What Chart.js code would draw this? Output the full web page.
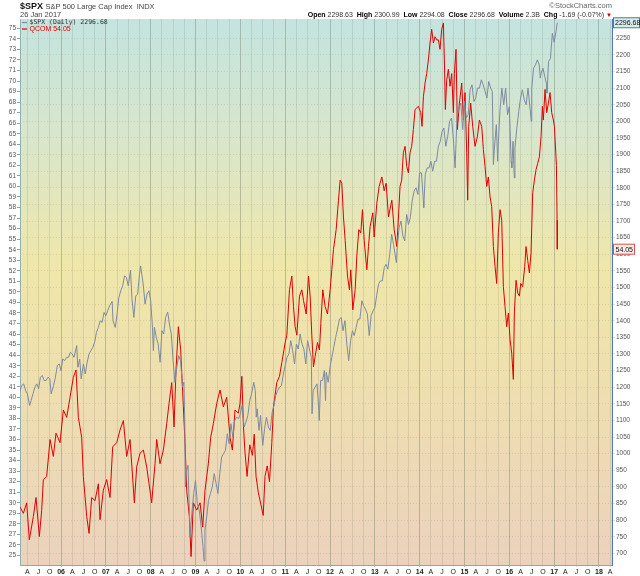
<!DOCTYPE html>
<html><head><meta charset="utf-8">
<script src="https://cdn.jsdelivr.net/npm/chart.js@4.4.1/dist/chart.umd.min.js"></script>
<style>
body{margin:0;background:#fff;}
#wrap{position:relative;width:640px;height:576px;font-family:"Liberation Sans",Arial,sans-serif;}
canvas{position:absolute;left:0;top:0;}
.h{position:absolute;white-space:nowrap;line-height:1;}
.b{font-weight:bold;color:#000;}
</style></head><body>
<div id="wrap">
<canvas id="c" width="640" height="576"></canvas>
<div class="h" style="left:20px;top:1.5px;font-size:9px;font-weight:bold;color:#111">$SPX</div>
<div class="h" style="left:45.5px;top:2.5px;font-size:7.5px;color:#444">S&amp;P 500 Large Cap Index&nbsp; INDX</div>
<div class="h" style="left:20px;top:10.5px;font-size:7.5px;color:#444">26 Jan 2017</div>
<div class="h" style="right:28px;top:2px;font-size:7.5px;color:#666">©StockCharts.com</div>
<div class="h" style="right:28px;top:10.5px;font-size:7px;color:#333"><span class="b">Open</span> 2298.63&nbsp;&nbsp;<span class="b">High</span> 2300.99&nbsp;&nbsp;<span class="b">Low</span> 2294.08&nbsp;&nbsp;<span class="b">Close</span> 2296.68&nbsp;&nbsp;<span class="b">Volume</span> 2.3B&nbsp;&nbsp;<span class="b">Chg</span> -1.69 (-0.07%) <span style="color:#c00;font-size:6px">▼</span></div>
</div>
<script>
// ---- axis ranges / ticks ----
const X_MIN = 2005.085, X_MAX = 2018.29;
const Q_MIN = 24.1, Q_MAX = 75.88;
const S_MIN = 665, S_MAX = 2308;
const yearLabels = ['05','06','07','08','09','10','11','12','13','14','15','16','17','18'];
const quarterLabels = ['A','J','O'];
const leftTicks = [25,26,27,28,29,30,31,32,33,34,35,36,37,38,39,40,41,42,43,44,45,46,47,48,49,50,51,52,53,54,55,56,57,58,59,60,61,62,63,64,65,66,67,68,69,70,71,72,73,74,75];
const rightTicks = [700,750,800,850,900,950,1000,1050,1100,1150,1200,1250,1300,1350,1400,1450,1500,1550,1600,1650,1700,1750,1800,1850,1900,1950,2000,2050,2100,2150,2200,2250];

// ---- $SPX (daily close, sampled) : decimal year / value ----
const spxDates = [
2005.085,2005.12,2005.167,2005.21,2005.25,2005.30,2005.333,2005.375,2005.417,2005.46,2005.50,2005.54,2005.583,2005.625,2005.667,2005.71,2005.75,2005.78,2005.833,2005.875,2005.917,2005.96,
2006.00,2006.04,2006.083,2006.125,2006.167,2006.21,2006.25,2006.29,2006.35,2006.375,2006.417,2006.45,2006.50,2006.54,2006.583,2006.625,2006.667,2006.71,2006.75,2006.79,2006.833,2006.875,2006.917,2006.96,
2007.00,2007.04,2007.083,2007.14,2007.16,2007.21,2007.25,2007.29,2007.333,2007.375,2007.417,2007.46,2007.50,2007.55,2007.583,2007.625,2007.667,2007.71,2007.75,2007.775,2007.833,2007.875,2007.917,2007.96,
2008.00,2008.04,2008.06,2008.083,2008.125,2008.167,2008.21,2008.25,2008.29,2008.333,2008.38,2008.417,2008.46,2008.50,2008.54,2008.583,2008.625,2008.667,2008.71,2008.74,2008.76,2008.775,2008.79,2008.833,2008.88,2008.917,2008.96,
2009.00,2009.04,2009.083,2009.125,2009.167,2009.19,2009.21,2009.25,2009.29,2009.333,2009.375,2009.417,2009.46,2009.50,2009.54,2009.583,2009.625,2009.667,2009.71,2009.75,2009.79,2009.833,2009.875,2009.917,2009.96,
2010.00,2010.04,2010.083,2010.125,2010.167,2010.21,2010.25,2010.30,2010.333,2010.355,2010.375,2010.417,2010.45,2010.50,2010.54,2010.583,2010.625,2010.667,2010.71,2010.75,2010.79,2010.833,2010.875,2010.917,2010.96,
2011.00,2011.04,2011.083,2011.125,2011.167,2011.21,2011.25,2011.29,2011.333,2011.375,2011.417,2011.46,2011.50,2011.54,2011.583,2011.60,2011.625,2011.667,2011.71,2011.75,2011.76,2011.79,2011.833,2011.875,2011.90,2011.917,2011.96,
2012.00,2012.04,2012.083,2012.125,2012.167,2012.21,2012.25,2012.29,2012.333,2012.375,2012.417,2012.46,2012.50,2012.54,2012.583,2012.625,2012.667,2012.71,2012.75,2012.79,2012.833,2012.875,2012.917,2012.96,
2013.00,2013.04,2013.083,2013.125,2013.167,2013.21,2013.25,2013.29,2013.333,2013.375,2013.417,2013.48,2013.50,2013.54,2013.583,2013.625,2013.667,2013.71,2013.75,2013.79,2013.833,2013.875,2013.917,2013.96,
2014.00,2014.04,2014.083,2014.09,2014.125,2014.167,2014.21,2014.25,2014.29,2014.333,2014.375,2014.417,2014.46,2014.50,2014.54,2014.583,2014.625,2014.667,2014.71,2014.75,2014.79,2014.833,2014.875,2014.917,2014.96,
2015.00,2015.04,2015.083,2015.125,2015.167,2015.21,2015.25,2015.29,2015.333,2015.375,2015.417,2015.46,2015.50,2015.54,2015.583,2015.62,2015.645,2015.667,2015.71,2015.74,2015.75,2015.79,2015.833,2015.875,2015.917,2015.96,
2016.00,2016.04,2016.055,2016.083,2016.11,2016.125,2016.167,2016.21,2016.25,2016.29,2016.333,2016.375,2016.417,2016.49,2016.50,2016.54,2016.583,2016.625,2016.667,2016.69,2016.71,2016.75,2016.79,2016.833,2016.84,2016.875,2016.917,2016.96,
2017.00,2017.04,2017.07];
const spxClose = [
1190,1205,1210,1190,1180,1145,1160,1180,1200,1210,1195,1230,1235,1220,1220,1230,1225,1180,1205,1230,1265,1270,
1250,1285,1280,1290,1290,1305,1300,1290,1325,1260,1285,1225,1270,1240,1275,1300,1310,1320,1335,1365,1380,1400,1395,1425,
1415,1430,1445,1458,1400,1380,1420,1470,1490,1505,1535,1530,1505,1552,1465,1410,1475,1480,1540,1565,1510,1450,1480,1490,
1460,1380,1310,1380,1350,1330,1275,1370,1360,1410,1426,1390,1360,1280,1215,1260,1295,1280,1200,1215,1100,900,940,965,750,820,880,
920,850,830,780,720,677,770,810,860,880,900,940,910,880,940,990,1000,1010,1060,1030,1090,1050,1100,1110,1105,
1120,1145,1080,1095,1115,1160,1180,1215,1190,1110,1135,1070,1115,1025,1075,1110,1080,1070,1125,1145,1175,1190,1200,1205,1240,
1265,1290,1300,1340,1310,1270,1330,1315,1360,1330,1315,1270,1340,1315,1290,1120,1190,1200,1210,1130,1100,1220,1220,1250,1160,1245,1215,
1260,1290,1320,1350,1375,1405,1410,1370,1400,1330,1280,1340,1370,1355,1380,1405,1405,1460,1445,1435,1420,1355,1415,1430,
1440,1475,1510,1520,1520,1560,1570,1555,1600,1660,1630,1575,1620,1680,1700,1655,1640,1720,1690,1710,1760,1790,1800,1780,
1845,1845,1760,1740,1840,1860,1860,1880,1850,1880,1880,1925,1940,1970,1980,1925,1955,2000,2010,1950,1860,2015,2040,2055,1975,
2060,2010,2020,2095,2110,2060,2070,2100,2100,2125,2110,2090,2070,2120,2100,2090,1870,1920,1990,1880,1920,2030,2100,2050,2100,2020,
2044,1880,1860,1940,1830,1920,1980,2030,2070,2095,2065,2050,2100,2000,2100,2160,2170,2185,2170,2130,2145,2160,2135,2110,2085,2180,2190,2265,
2238,2270,2296.68];

// ---- QCOM (adjusted close, sampled) : decimal year / value ----
const qcomDates = [
2005.085,2005.160,2005.234,2005.293,2005.383,2005.442,2005.517,2005.569,2005.606,2005.680,2005.755,2005.829,2005.888,2005.978,
2006.052,2006.126,2006.201,2006.275,2006.335,2006.387,2006.461,2006.498,2006.573,2006.625,2006.684,2006.758,2006.833,2006.870,2006.944,
2007.018,2007.093,2007.152,2007.242,2007.316,2007.391,2007.465,2007.539,2007.636,2007.688,2007.762,2007.837,2007.911,2007.963,
2008.022,2008.097,2008.134,2008.208,2008.283,2008.357,2008.409,2008.469,2008.521,2008.565,2008.617,2008.669,2008.729,2008.766,2008.803,2008.863,2008.900,2008.952,
2009.026,2009.101,2009.160,2009.212,2009.286,2009.338,2009.398,2009.472,2009.547,2009.621,2009.695,2009.770,2009.822,2009.881,2009.955,2009.992,
2010.033,2010.07,2010.10,2010.15,2010.21,2010.27,2010.31,2010.35,2010.40,2010.46,2010.51,2010.55,2010.60,2010.65,2010.702,2010.739,2010.813,2010.873,2010.925,
2011.000,2011.037,2011.096,2011.148,2011.185,2011.222,2011.260,2011.319,2011.371,2011.408,2011.468,2011.520,2011.557,2011.594,2011.631,2011.669,2011.721,2011.765,2011.795,2011.839,2011.892,2011.944,
2012.003,2012.040,2012.077,2012.137,2012.189,2012.226,2012.263,2012.300,2012.338,2012.390,2012.434,2012.464,2012.509,2012.561,2012.598,2012.642,2012.687,2012.724,2012.762,2012.821,2012.858,2012.895,2012.955,2012.985,
2013.044,2013.096,2013.156,2013.208,2013.252,2013.304,2013.379,2013.431,2013.490,2013.527,2013.562,2013.599,2013.636,2013.674,2013.711,2013.748,2013.785,2013.822,2013.859,2013.897,2013.971,
2014.023,2014.053,2014.083,2014.120,2014.157,2014.194,2014.231,2014.268,2014.306,2014.343,2014.380,2014.417,2014.454,2014.491,2014.529,2014.551,2014.573,2014.603,2014.640,2014.677,2014.715,2014.752,2014.774,2014.811,2014.841,2014.886,2014.938,2014.975,
2015.012,2015.049,2015.071,2015.094,2015.138,2015.183,2015.235,2015.287,2015.332,2015.384,2015.421,2015.458,2015.495,2015.532,2015.570,2015.607,2015.644,2015.681,2015.718,2015.755,2015.793,2015.830,2015.867,2015.904,2015.941,2015.979,
2016.016,2016.053,2016.090,2016.112,2016.150,2016.187,2016.224,2016.254,2016.298,2016.343,2016.373,2016.410,2016.447,2016.484,2016.521,2016.559,2016.596,2016.633,2016.670,2016.707,2016.737,2016.759,2016.796,2016.834,2016.871,2016.908,2016.945,2016.982,
2017.005,2017.05,2017.065,2017.07];
const qcomClose = [
29.6,29.0,30.0,26.5,28.7,30.5,26.8,29.3,32.2,32.5,36.0,34.4,36.6,35.7,
38.8,38.1,40.0,41.9,42.6,38.1,36.2,32.5,28.7,27.1,30.5,30.2,31.8,28.4,31.2,
32.2,30.5,35.3,35.7,36.9,37.8,34.4,36.0,30.0,33.4,34.7,35.0,33.4,31.8,
30.0,33.7,36.0,33.7,35.0,37.5,39.4,41.4,37.2,42.6,46.7,44.5,39.1,35.7,31.2,28.7,24.9,30.0,
29.3,30.0,27.7,31.2,33.7,36.2,37.5,39.4,40.7,39.1,40.0,36.2,35.0,38.8,38.5,39.4,
42.0,37.2,35.0,32.5,35.5,34.5,36.5,32.5,31.0,29.8,28.8,32.5,33.5,32.0,35.7,39.1,41.4,42.0,43.3,
45.2,45.9,50.2,51.5,48.6,46.7,45.9,49.6,50.2,49.2,47.9,51.5,49.6,45.9,42.9,43.9,45.2,44.5,47.0,50.2,48.6,47.9,
50.2,52.1,54.0,55.9,58.7,60.6,60.3,57.1,54.9,51.5,50.2,52.1,48.3,50.2,53.4,55.9,55.6,57.8,54.9,52.1,54.3,56.2,57.5,55.2,
58.4,60.0,60.9,59.6,60.3,57.1,58.7,55.9,54.3,57.1,60.0,60.6,63.2,63.8,61.9,61.3,63.2,63.8,65.4,67.3,67.6,
67.0,65.7,68.5,69.8,70.7,72.0,73.6,74.9,73.6,74.2,73.9,73.9,73.0,74.9,75.5,72.0,67.3,70.1,71.1,69.5,70.7,67.0,70.7,73.0,65.4,67.9,69.8,66.3,
68.9,63.2,58.7,65.7,67.9,65.7,63.8,64.7,66.3,65.7,63.5,61.9,60.0,60.9,59.0,58.1,54.3,52.4,50.8,55.6,57.8,56.8,50.5,48.6,46.7,48.0,
45.5,44.2,41.7,48.0,51.1,49.9,49.6,50.8,50.5,52.4,54.3,53.0,51.8,53.7,59.4,60.6,61.6,62.2,62.8,64.7,67.6,66.3,69.2,67.0,67.9,68.9,67.0,66.3,
65.7,62.0,56.8,54.05];

// ---- derived tick tables ----
const xTickValues = [], xTickLabels = [];
yearLabels.forEach((yl, i) => {
  const y = 2005 + i;
  [[0, yl], [0.25, quarterLabels[0]], [0.5, quarterLabels[1]], [0.75, quarterLabels[2]]].forEach(([off, lab]) => {
    const v = y + off;
    if (v >= X_MIN && v <= X_MAX) { xTickValues.push(v); xTickLabels.push(lab); }
  });
});

const FAM = '"Liberation Sans", Arial, sans-serif';
const spxColor = '#7d8ba0', qColor = '#e00000';
const spxLast = spxClose[spxClose.length - 1], qLast = qcomClose[qcomClose.length - 1];

const bgPlugin = {
  id: 'bg',
  beforeDraw(chart) {
    const {ctx, chartArea: a} = chart;
    const g = ctx.createLinearGradient(0, a.top, 0, a.bottom);
    g.addColorStop(0, '#c3e4df');
    g.addColorStop(0.22, '#d9e6cb');
    g.addColorStop(0.45, '#efe7aa');
    g.addColorStop(0.62, '#efe1ad');
    g.addColorStop(1, '#ebd2bd');
    ctx.save(); ctx.fillStyle = g; ctx.fillRect(a.left, a.top, a.right - a.left, a.bottom - a.top); ctx.restore();
  }
};

const overlayPlugin = {
  id: 'overlay',
  afterDraw(chart) {
    const ctx = chart.ctx, a = chart.chartArea;
    ctx.save();
    // legend
    ctx.lineWidth = 1.2;
    ctx.strokeStyle = spxColor; ctx.beginPath(); ctx.moveTo(22, 22.5); ctx.lineTo(27, 22.5); ctx.stroke();
    ctx.strokeStyle = qColor; ctx.beginPath(); ctx.moveTo(22, 29); ctx.lineTo(27, 29); ctx.stroke();
    ctx.textBaseline = 'middle'; ctx.textAlign = 'left';
    ctx.font = '6.5px "DejaVu Sans Mono"'; ctx.fillStyle = '#333';
    ctx.fillText('$SPX (Daily) ' + spxLast.toFixed(2), 29.5, 22.8);
    ctx.font = '7px ' + FAM; ctx.fillStyle = qColor;
    ctx.fillText('QCOM ' + qLast.toFixed(2), 29.5, 29.3);
    // last value boxes
    const ys = chart.scales.yS.getPixelForValue(spxLast);
    ctx.fillStyle = '#d4ecea'; ctx.strokeStyle = '#5d7590'; ctx.lineWidth = 1;
    ctx.fillRect(a.right + 1.5, ys - 5, 26, 10); ctx.strokeRect(a.right + 1.5, ys - 5, 26, 10);
    ctx.fillStyle = '#111'; ctx.font = '7px ' + FAM;
    ctx.fillText(spxLast.toFixed(2), a.right + 3, ys + 0.5);
    const yq = chart.scales.yQ.getPixelForValue(qLast);
    ctx.fillStyle = '#fbeee6'; ctx.strokeStyle = '#e05050';
    ctx.fillRect(a.right + 1.5, yq - 5, 21, 10); ctx.strokeRect(a.right + 1.5, yq - 5, 21, 10);
    ctx.fillStyle = '#111';
    ctx.fillText(qLast.toFixed(2), a.right + 3.5, yq + 0.5);
    ctx.restore();
  }
};

new Chart(document.getElementById('c'), {
  type: 'line',
  data: {
    datasets: [
      { label: '$SPX (Daily)', data: spxDates.map((t, i) => ({x: t, y: spxClose[i]})), yAxisID: 'yS',
        borderColor: spxColor, borderWidth: 1, pointRadius: 0, tension: 0, order: 0 },
      { label: 'QCOM', data: qcomDates.map((t, i) => ({x: t, y: qcomClose[i]})), yAxisID: 'yQ',
        borderColor: qColor, borderWidth: 1, pointRadius: 0, tension: 0, order: 1 }
    ]
  },
  options: {
    responsive: false, animation: false, devicePixelRatio: 1,
    layout: { padding: { top: 19, left: 0, right: 0, bottom: 0 } },
    plugins: { legend: { display: false }, tooltip: { enabled: false } },
    scales: {
      x: {
        type: 'linear', min: X_MIN, max: X_MAX,
        afterBuildTicks: s => { s.ticks = xTickValues.map(v => ({value: v})); },
        afterFit: s => { s.height = 11; },
        ticks: {
          autoSkip: false, maxRotation: 0, padding: 1, color: '#222',
          font: c => ({ family: FAM, size: 7, weight: (c.tick && Number.isInteger(c.tick.value)) ? 'bold' : 'normal' }),
          callback: v => xTickLabels[xTickValues.indexOf(v)]
        },
        grid: {
          color: c => (c.tick && Number.isInteger(c.tick.value)) ? 'rgba(105,115,95,0.38)' : 'rgba(105,115,95,0.17)',
          tickLength: 2
        },
        border: { color: '#a0a0a0' }
      },
      yQ: {
        position: 'left', min: Q_MIN, max: Q_MAX,
        afterBuildTicks: s => { s.ticks = leftTicks.map(v => ({value: v})); },
        afterFit: s => { s.width = 20; },
        ticks: { autoSkip: false, padding: 1, color: '#555', font: { family: FAM, size: 6.5 }, callback: v => String(v) },
        grid: { drawOnChartArea: false, tickLength: 3, color: '#8aa' },
        border: { color: '#8fb0ae' }
      },
      yS: {
        position: 'right', min: S_MIN, max: S_MAX,
        afterBuildTicks: s => { s.ticks = rightTicks.map(v => ({value: v})); },
        afterFit: s => { s.width = 28; },
        ticks: { autoSkip: false, padding: 1, color: '#555', font: { family: FAM, size: 6.5 }, callback: v => String(v) },
        grid: { color: 'rgba(105,115,95,0.17)', tickLength: 3 },
        border: { color: '#4f78b8', dash: [1, 2] }
      }
    }
  },
  plugins: [bgPlugin, overlayPlugin]
});
</script>
</body></html>
